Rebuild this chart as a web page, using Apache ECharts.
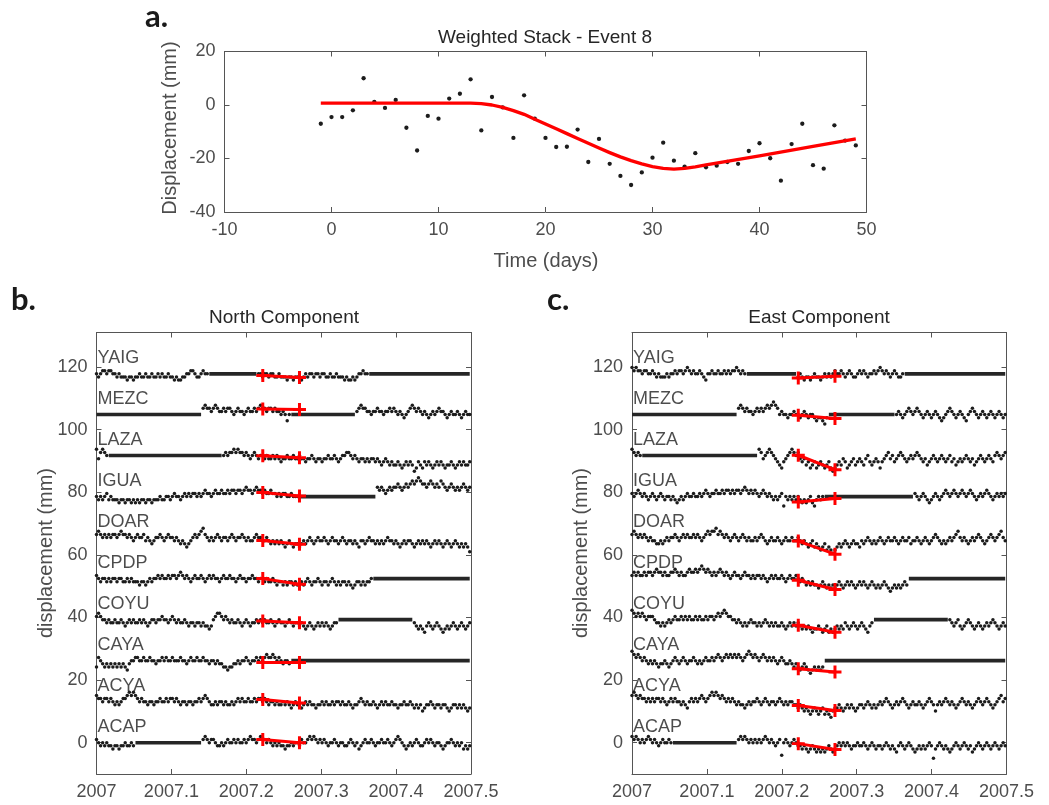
<!DOCTYPE html>
<html>
<head>
<meta charset="utf-8">
<title>Weighted Stack - Event 8</title>
<script src="https://cdn.jsdelivr.net/npm/echarts@6/dist/echarts.min.js"></script>
<style>
  html, body { margin: 0; padding: 0; background: #fff; }
  #main { width: 1049px; height: 805px; }
</style>
</head>
<body>
<div id="main"></div>
<script>
// ---------- panel a: weighted stack ----------
const stackFirstDay = -1;   // one point per day from here
const stackValues = [-7, -4.5, -4.5, -2, 10, 1.2, -1.1, 1.9, -8.5, -17, -4.1, -5.1, 2.4, 4.2, 9.6, -9.5, 3, -0.9,
  -12.3, 3.6, -5.1, -12.3, -15.7, -15.6, -9.2, -21.3, -12.7, -22, -26.5, -29.9, -25.2, -19.7, -14.1, -20.8, -23,
  -18, -23.3, -22.7, -21.3, -22, -17.2, -14.3, -19.9, -28.3, -14.6, -7, -22.5, -23.8, -7.6, -13.3, -15.1];
const fitDays = [-1, 13, 14, 15, 16, 17, 18, 19, 20, 21, 22, 23, 24, 25, 26, 27, 28, 29, 30, 31, 32, 33, 34, 35, 40, 45, 49];
const fitValues = [0.7, 0.7, 0.5, 0.0, -0.9, -2.1, -3.5, -5.3, -7.1, -8.9, -10.7, -12.5, -14.3, -16.1, -17.8, -19.4,
  -20.8, -22.0, -23.0, -23.7, -24.0, -23.7, -23.1, -22.4, -19.0, -15.5, -12.7];

// ---------- panels b, c: station time series ----------
const stations = ['YAIG', 'MEZC', 'LAZA', 'IGUA', 'DOAR', 'CPDP', 'COYU', 'CAYA', 'ACYA', 'ACAP'];
const stationOffsets = [117.8, 104.8, 91.7, 78.6, 65.5, 52.4, 39.3, 26.2, 13.1, 0];
const stationTicks = [0, 20, 40, 60, 80, 100, 120];
const eventTimes = [2007.222, 2007.271];
const northAtStart = [117.3, 106.6, 91.6, 79.9, 64.6, 52.4, 38.9, 25.6, 13.8, 1.0];
const northAtEnd = [116.6, 106.4, 91.0, 78.8, 63.4, 50.6, 38.3, 25.6, 12.7, 0];
const eastAtStart = [116.5, 104.6, 91.8, 76.9, 64.4, 51.9, 37.5, 23.6, 11.9, -0.3];
const eastAtEnd = [117.0, 103.5, 87.2, 78.0, 60.2, 48.9, 35.3, 22.6, 10.3, -2.2];

// gap-filled stretches, [first day, last day] since 2007.0
const northFlats = [[[55, 78], [133, 182]], [[0, 51], [95, 126]], [[6, 61]], [[99, 136]], [], [[135, 182]], [[118, 154]], [[95, 182]], [], [[19, 51]]];
const eastFlats = [[[56, 80], [133, 182]], [[0, 51], [96, 128]], [[5, 61]], [[94, 137]], [], [[135, 182]], [[118, 154]], [[94, 182]], [], [[20, 51]]];

// daily residuals in mm relative to the station offset -- north
const nYAIG1 = [0,-1,0,1,1,0,1,1,0,0,-1,0,-1,-1,-1,-2,-1,-1,-2,-1,-1,0,-1,-1,0,-1,-1,0,-1,-1,0,-1,0,-1,-1,0,-1,-1,-2,-1,-2,-2,-1,-1,0,0,1,1,0,-1,-1,0,1,0,0];
const nYAIG2 = [0,0,-1,0,0,-1,0,0,-1,-1,0,-1,-1,-1,-2,-1,-1,-2,-1,-1,-1,-2,-1,0,-1,0,0,-1,0,0,-1,0,0,-1,-1,0,-1,-1,0,-1,-1,-1,-2,-1,-2,-2,-1,-2,-1,0,0,1,0,0];
const nMEZC1 = [2,3,2,2,1,2,3,2,1,1,2,1,2,2,1,0,1,2,1,1,0,1,2,1,1,2,1,2,3,2,2,1,2,2,1,2,1,1,0,1,0,-2,0];
const nMEZC2 = [1,2,3,2,2,1,1,0,1,1,2,1,1,0,1,1,2,1,2,1,0,1,0,-1,0,1,2,3,2,1,2,1,0,1,0,-1,0,1,0,1,2,1,1,0,-1,0,1,0,0,1,0,-1,0,1,0,0];
const nLAZA1 = [2,-1,1,2,1,0];
const nLAZA2 = [0,1,0,1,1,2,1,2,1,1, 0,1,0,-1,0,1,0,-1,0,0, -1,0,-1,-1,0,-1,0,-1,-2,-1, -1,0,-1,-1,0,-1,-1,0,-1,-1,
  -2,-1,-1,0,-1,-2,-1,-1,-2,-1, -1,0,-1,-1,0,-1,-2,-1,0,0, 1,1,0,-1,0,-1,-2,-1,-1,-2, -1,-2,-1,-1,-2,-1,-2,-3,-2,-1,
  -2,-3,-2,-3,-3,-2,-3,-4,-3,-2, -3,-2,-3,-5,-4,-2,-3,-4,-2,-3, -2,-3,-4,-3,-2,-3,-2,-3,-4,-3, -3,-2,-3,-4,-3,-2,-3,-2,-3,-3,-2];
const nIGUA1 = [0,-1,0,-1,0,1,-1,0,-1,-1, -1,-2,-1,-1,-2,-1,-1,-2,-1,-2, -1,-2,-1,-1,-2,-1,-1,-2,-1,-1, -1,0,-1,-1,0,0,-1,0,1,0,
  0,-1,0,1,0,1,0,1,1,0, 1,0,1,2,1,1,0,1,2,1, 1,2,1,1,2,1,2,2,1,2, 2,1,2,3,2,2,1,2,3,2, 2,1,2,1,1,2,1,1,0,1, 0,1,1,0,0,1,0,0,0];
const nIGUA2 = [3,2,3,2,1,2,3,2,3,3, 4,3,2,3,4,3,4,5,4,5, 6,5,4,4,3,4,5,4,3,4, 3,5,4,3,2,3,4,3,2,3, 2,3,4,3,2,3];
const nDOAR = [1,2,1,0,1,0,1,0,1,1, 0,1,2,1,1,0,1,0,-1,0, 1,0,0,1,-1,0,-1,-2,-1,0, 0,1,0,-1,0,1,0,0,-1,0,
  -1,-2,-1,-2,-3,-2,-1,0,1,0, 1,2,3,1,0,-1,0,-1,0,1, 0,-1,0,0,-1,0,1,0,-1,0, 0,1,0,-1,0,-1,-1,0,1,0,
  0,-1,-1,0,-1,-2,-1,-2,-1,-2, -1,-2,-3,-2,-1,-2,-3,-2,-2,-3, -2,-1,-2,-1,0,-1,-2,-1,0,-1, -1,0,-1,-2,-1,0,-1,-1,-2,-1,
  0,-1,-2,-1,-1,-2,-1,-2,-3,-1, -1,-2,-1,0,-1,-1,-2,-1,-2,-1, -2,-1,0,-1,-1,-2,-1,-2,-3,-2, -1,-2,-1,-1,-2,-3,-2,-1,-2,-1,
  -2,-1,-2,-3,-2,-1,-2,-1,-2,-3, -2,-1,-2,-3,-2,-1,-2,-3,-2,-3,-2,-3,-4.5];
const nCPDP = [1,0,-1,0,0,-1,0,-1,0,0, -1,0,0,-1,-1,0,-1,0,-1,-1, -1,-2,-1,-1,-2,-1,0,-1,0,0, 1,0,1,0,0,1,0,1,1,0,
  1,2,1,0,1,0,-1,0,1,0, 0,1,0,-1,0,1,0,1,0,0, -1,0,1,0,0,1,0,0,-1,0, 1,0,0,-1,0,0,1,0,0,-1,
  0,0,-1,0,-1,-1,0,-1,-2,-1, -1,-2,-1,-2,-1,-1,-2,-1,-2,-2, -1,-2,-1,0,-1,-2,-1,-1,0,-1, -2,-1,-1,-2,-1,0,-1,-2,-1,-2,
  -1,-1,-2,-1,-2,-3,-2,-1,-1,-2, -1,-2,-1,-1,0];
const nCOYU1 = [1,2,1,0,0,-1,0,-1,-1,0, -1,-1,0,-1,-2,-1,0,-1,0,-1, -1,0,-1,0,-1,-2,-1,0,0,-1, 0,0,1,0,0,-1,0,1,0,-1,
  0,-1,-1,0,-1,-2,-1,-1,-2,-1, -1,-2,-1,-2,-2,-3,-2,0,1,2, 2,1,0,1,0,-1,0,-1,-1,0, -1,-2,-1,0,-1,-2,-1,-1,0,-1,
  0,-1,0,-1,-1,0,-1,-2,-1,0, -1,-1,-2,-1,0,-1,-2,-1,-1,-2, -1,-2,-3,-2,-1,-2,-3,-2,-1,-2, -1,-2,-1,-2,-3,-2,-1,-1];
const nCOYU2 = [-1,-2,-3,-2,-3,-4,-2,-1,-2,-3,-2,-1,-2,-3,-4,-3,-2,-3,-2,-1,-2,-3,-2,-1,-2,-3,-2,-1];
const nCAYA = [-2,1,0,-1,-2,-1,-2,-1,-2,-1, -2,-1,-2,-1,-2,-3,-1,0,0,1, 1,0,0,1,0,0,1,0,0,-1, 0,0,1,0,1,0,0,1,0,0,
  0,1,0,0,-1,0,1,0,0,1, 0,0,1,0,0,-1,0,0,-1,0, -1,-1,-2,-2,-3,-2,-2,-1,-1,0, -1,0,0,1,0,-1,0,0,1,0,
  1,0,1,2,1,1,2,1,0,1, 0,-1,0,0,-1];
const nACYA = [2,1,1,0,1,1,0,1,0,-1, 0,-1,0,1,1,2,3,2,3,2, 1,0,1,0,0,-1,0,0,-1,0, 0,1,0,0,1,0,1,1,0,1,
  0,-1,0,0,-1,0,0,-1,0,0, 1,0,1,2,1,0,-1,-1,0,-1, 0,0,-1,0,-1,-1,0,-1,0,1, 0,1,0,0,1,0,0,1,0,1,
  1,0,1,0,-1,0,0,-1,0,-1, -1,0,-1,0,-1,-2,-1,0,-1,-1, -2,-1,0,-1,0,-1,-1,-2,-1,-1, 0,-1,0,-1,-1,0,-1,0,0,-1,
  0,-1,-1,0,-1,-2,-1,-1,0,1, 0,-1,0,-1,-1,0,-1,-2,-1,0, -1,0,-1,-1,0,-1,-1,-2,-1,-1, 0,-1,-1,0,-1,-2,-1,-2,-1,-3,
  -2,-1,-1,0,-1,-2,-1,-1,-2,-1, -1,-2,-3,-2,-1,-1,-2,-1,-2,-1,-2,-3,-2];
const nACAP1 = [1,0,-1,0,-1,0,-1,-1,-2,-1,-1,-2,-1,-1,0,-1,-1,0,-1];
const nACAP2 = [1,2,1,0,1,1,0,-1,-1,0, -1,0,1,0,0,1,0,1,0,0, 1,0,1,2,1,1,0,1,2,1, 1,0,1,0,-1,0,-1,0,-1,-1,
  -2,-1,-1,0,-1,0,0,-1,1,0, 0,1,2,1,2,1,0,1,0,1, 0,-1,0,0,1,0,-1,0,0,-1, -1,0,1,0,-1,0,-2,-1,0,1,
  0,0,1,0,-1,0,0,1,0,0, 1,0,-1,0,1,2,1,0,-1,-2, -1,0,-1,0,1,0,-1,-1,0,1, 0,1,0,-1,0,0,-1,-2,-1,0, 0,1,0,-1,0,-1,0,-2,-1,-2,-1];

// daily residuals in mm relative to the station offset -- east
const eYAIG1 = [2,1,2,1,1,0,1,1,0,0, 1,0,-1,0,-1,-1,-1,0,-1,0, 0,1,0,1,1,0,1,2,1,0, 1,0,0,1,0,-1,-2,0,0,1, 0,0,1,0,0,1,0,1,0,1, 1,2,1,0,1,0];
const eYAIG2 = [-1,0,-1,-2,-1,-1,-2,-1,0,-1, -1,-2,-1,0,-1,0,-1,0,1,0, 0,1,0,-1,0,1,0,-1,-1,0, 1,0,1,0,-1,0,0,1,0,1, 2,1,0,1,0,-1,0,1,0,-1, -1,0];
const eMEZC1 = [2,3,2,1,2,1,1,0,1,2, 1,2,1,2,3,2,3,4,3,2, 0,1,0,0,-1,0,0,1,0,0, -1,0,1,0,-1,0,0,-1,-2,-1, -1,-2,-3,-1];
const eMEZC2 = [0,1,0,-1,0,1,2,1,0,1, 2,1,0,-1,0,1,0,-1,0,1, 0,-1,-2,-1,0,1,2,1,0,-1, 0,1,0,-1,-2,0,1,2,1,0, -1,0,1,0,-1,0,1,0,-1,0, 1,0,-1,0];
const eLAZA1 = [2,1,0,1,0];
const eLAZA2 = [2,1,-1,0,1,2,1,0,-1,-2, -3,-4,-2,-1,0,1,2,1,0,1, -1,-2,-1,-3,-2,-4,-3,-2,-4,-3, -2,-3,-4,-3,-2,-4,-5,-4,-3,-2,
  -3,-1,-2,-4,-3,-2,-1,-3,-2,-1, -2,-3,-1,0,-2,-3,-2,-1,-2,-4, -2,-1,0,1,-1,0,-2,-1,0,1, 0,-1,-2,-1,0,-1,0,1,0,-1,
  -2,-1,-3,-2,-1,0,-1,-2,-1,0, -1,-2,-1,0,-2,-1,-3,-2,-1,-2, -1,0,-1,-2,-1,-3,-2,-1,0,-1, -2,-1,0,-1,-2,0,1,0,-1,0,1];
const eIGUA1 = [1,0,1,2,1,0,1,0,-1,0, 1,0,-1,0,1,0,-1,0,0,-1, 0,-1,-2,-1,0,-1,0,1,0,0, 1,0,0,1,0,1,2,1,0,1,
  1,2,1,1,2,1,2,2,1,2, 1,2,2,1,2,3,2,1,2,1, 2,1,0,1,2,1,0,1,0,-1, 0,-1,0,1,-3,0,-1,0,-1,0, -1,0,-1,-2,-1,-2,-1,0,-2,-3, -1,0,-1,0];
const eIGUA2 = [1,0,-1,0,1,0,-1,-2,-1,0, 1,0,-1,0,1,2,1,0,1,2, 1,0,1,2,1,0,1,2,1,0, -1,0,1,0,1,2,1,0,-1,0, 1,0,1,0,1];
const eDOAR = [1,2,1,0,1,0,1,0,-1,0, -1,-1,-2,-2,-1,-2,-1,0,-1,0, 0,1,0,-1,0,1,0,1,0,0, 1,0,1,0,-1,0,1,2,1,2,
  2,3,1,2,1,0,1,0,-1,0, 1,0,-1,0,1,0,-1,0,-1,-1, 0,-1,0,1,0,-1,-2,-1,0,-1, -1,0,-1,-2,-1,0,-1,-1,0,-1,
  -1,0,-1,-2,-1,-2,-3,-2,-1,-3, -2,-3,-4,-3,-2,-4,-3,-4,-5,-4, -3,-2,-3,-2,-1,-2,-3,-2,-1,-2, -2,-3,-1,-2,-1,0,-1,-2,-1,-2,
  -1,0,-1,-2,-1,0,-1,-1,0,-1, -2,-1,0,-1,-1,0,-2,-1,-1,0, -1,-2,-1,0,-1,-2,-1,0,1,0, -1,-2,-1,-2,-1,0,-1,0,1,2,
  0,-1,0,-1,-2,-1,0,-1,0,1, 0,-1,-2,-1,0,1,0,-1,0,1,2,0,-1];
const eCPDP = [1,2,1,2,1,1,2,1,2,2, 1,2,3,2,2,1,2,1,1,2, 2,3,2,1,2,1,1,2,3,2, 2,3,2,3,4,3,2,3,2,1,
  2,1,2,3,2,1,2,1,0,1, 2,1,1,0,1,2,1,1,0,1, 0,1,1,0,1,0,-1,0,1,0, 1,0,0,1,0,-1,0,1,0,0,
  1,0,-1,0,-1,-2,-1,-2,-1,-2, -2,-3,-2,-1,-2,-3,-2,-3,-2,-3, -2,-1,-2,-3,-2,-1,-2,-1,-2,-3, -2,-1,-2,-1,-2,-3,-2,-1,-2,-3,
  -2,-3,-2,-1,-2,-3,-4,-3,-2,-3, -2,-3,-2,-1,-2];
const eCOYU1 = [3,2,1,2,1,2,1,0,1,1, 1,0,-1,-1,-2,-1,-2,-1,0,-1, 0,1,0,0,1,0,1,0,1,0, 0,1,0,1,0,0,1,0,1,1,
  0,1,2,1,2,3,2,1,1,0, 0,-1,0,-1,-2,-1,-2,-1,0,-1, -1,-2,-1,-2,-1,0,-1,-2,-1,-2, -1,-2,-2,-1,-2,-3,-2,-1,-2,-1,
  -2,-1,-2,-3,-2,-3,-2,-3,-4,-3, -3,-2,-3,-4,-3,-2,-4,-3,-4,-3, -2,-3,-2,-3,-1,-2,-3,-2,-1,-2, -3,-2,-1,-2,-3,-4,-2,-1];
const eCOYU2 = [0,-1,-2,-1,0,-2,-3,-2,-1,0,-1,-2,-3,-2,-1,-2,-3,-2,-1,-2,-1,0,-1,-2,-3,-2,-1,-2];
const eCAYA = [3,2,1,2,1,0,1,0,-1,0, -1,0,-1,-2,-1,-1,0,-1,-2,-1, 0,1,0,-1,0,1,0,-1,0,0, 1,0,-1,0,-1,0,1,0,0,1,
  0,1,2,1,0,1,2,1,2,1, 2,1,2,1,0,1,2,3,2,1, 2,1,0,1,2,1,0,1,0,1, 0,-1,0,1,0,-1,-1,0,-1,-2,
  -1,-2,-3,-2,-1,-2,-3,-4,-3,-2, -3,-2,-3,-2];
const eACYA = [2,3,2,1,2,1,1,0,1,0, 1,0,1,1,0,1,0,-1,0,1, 0,1,0,0,-1,0,-1,-2,0,1, 0,1,0,1,2,1,0,1,2,3,
  2,3,2,1,2,1,0,1,0,1, 0,-1,0,-1,-1,-2,-1,0,-1,0, 0,1,0,-1,0,1,0,-1,0,0, -1,0,1,0,-1,0,-1,0,0,-1,
  -1,-2,-1,-2,-3,-2,-3,-4,-3,-2, -3,-4,-3,-2,-4,-3,-4,-5,-3,-2, -2,-1,-2,-3,-2,-1,-2,-1,-2,-3, -2,-1,-1,-2,-1,0,-1,-2,-1,-2,
  -1,0,-1,0,1,0,-1,-2,-1,0, -1,0,1,0,-1,-2,-1,0,-1,-1, 0,-1,-2,-1,0,1,0,-1,-3,-1, 0,-1,0,1,0,-1,0,-1,-2,-1,
  0,1,0,-1,0,-1,-2,-1,0,1, 0,-1,0,1,0,-1,-2,-1,0,1,2,0,1];
const eACAP1 = [2,1,2,1,0,1,0,1,2,1,0,1,0,-1,0,1,0,0,1,0];
const eACAP2 = [1,2,1,2,1,0,1,0,1,0, 1,0,1,2,1,0,1,0,-1,0, 1,-4,0,1,0,-1,0,1,0,-1, -1,-2,-1,-2,-3,-2,-1,-2,-3,-2,
  -3,-2,-3,-2,-1,-2,-3,-2,-1,0, -1,0,-1,0,-1,-2,-1,-1,0,-1, -1,0,-1,-2,-1,0,-1,-2,-1,-1, -2,-1,0,-1,-2,-1,-2,-3,-1,0,
  -1,-2,-1,0,-1,-2,-3,-2,-1,-2, -1,-2,-1,0,-1,-5,-2,-1,0,-1, -2,-1,-2,-3,-2,-1,0,-1,-2,-1, 0,-1,-2,-1,-3,-2,-1,0,-1,-2, -1,0,-1,-2,-1,0,-1,-2,-1,0,-1];

// [first day, residuals] per station, same order as stations
const northNoise = [[[0, nYAIG1], [79, nYAIG2]], [[52, nMEZC1], [127, nMEZC2]], [[0, nLAZA1], [62, nLAZA2]],
  [[0, nIGUA1], [137, nIGUA2]], [[0, nDOAR]], [[0, nCPDP]], [[0, nCOYU1], [155, nCOYU2]], [[0, nCAYA]], [[0, nACYA]],
  [[0, nACAP1], [52, nACAP2]]];
const eastNoise = [[[0, eYAIG1], [81, eYAIG2]], [[52, eMEZC1], [129, eMEZC2]], [[0, eLAZA1], [62, eLAZA2]],
  [[0, eIGUA1], [138, eIGUA2]], [[0, eDOAR]], [[0, eCPDP]], [[0, eCOYU1], [155, eCOYU2]], [[0, eCAYA]], [[0, eACYA]],
  [[0, eACAP1], [52, eACAP2]]];

const FONT = 'Liberation Sans, Arial, Helvetica, sans-serif';
const AXIS_COLOR = '#555';
const LABEL_COLOR = '#4d4d4d';
const DOT_COLOR = '#1c1c1c';
const CROSS = 'path://M-1,-0.23L1,-0.23L1,0.23L-1,0.23Z M-0.23,-1L0.23,-1L0.23,1L-0.23,1Z';

function dayToYear(d) {
    return 2007 + d / 365.25;
}

function boxAxis(opt, labels) {
    // MATLAB-like box: ticks inside, optional labels
    return Object.assign({
        type: 'value',
        axisLine: { show: true, onZero: false, lineStyle: { color: AXIS_COLOR, width: 1 } },
        axisTick: { show: true, inside: true, length: 5, lineStyle: { color: AXIS_COLOR } },
        axisLabel: { show: labels, fontSize: 18, color: LABEL_COLOR, fontFamily: FONT, margin: 9 },
        splitLine: { show: false }
    }, opt);
}

function stationSeries(xi, yi, flats, noise, atStart, atEnd) {
    const out = [];
    const pts = [];
    noise.forEach((segs, i) => {
        segs.forEach(([first, vals]) => {
            vals.forEach((v, k) => pts.push([dayToYear(first + k), stationOffsets[i] + v]));
        });
    });
    out.push({
        type: 'scatter', xAxisIndex: xi, yAxisIndex: yi, data: pts, symbolSize: 3.5,
        itemStyle: { color: DOT_COLOR, opacity: 1 }, silent: true, z: 2
    });
    flats.forEach((segs, i) => {
        segs.forEach(([a, b]) => {
            out.push({
                type: 'line', xAxisIndex: xi, yAxisIndex: yi, showSymbol: false, silent: true, z: 2,
                data: [[dayToYear(a), stationOffsets[i]], [dayToYear(b), stationOffsets[i]]],
                lineStyle: { color: '#262626', width: 3.6 }
            });
        });
    });
    stations.forEach((s, i) => {
        out.push({
            type: 'line', xAxisIndex: xi, yAxisIndex: yi, showSymbol: false, silent: true, z: 4,
            data: [[eventTimes[0], atStart[i]], [eventTimes[1], atEnd[i]]],
            lineStyle: { color: '#ff0000', width: 3 }
        });
    });
    const crosses = [];
    stations.forEach((s, i) => {
        crosses.push([eventTimes[0], atStart[i]]);
        crosses.push([eventTimes[1], atEnd[i]]);
    });
    out.push({
        type: 'scatter', xAxisIndex: xi, yAxisIndex: yi, data: crosses, symbol: CROSS, symbolSize: 13,
        itemStyle: { color: '#ff0000', opacity: 1 }, silent: true, z: 5
    });
    out.push({
        type: 'scatter', xAxisIndex: xi, yAxisIndex: yi, symbolSize: 0, clip: false, silent: true, z: 6,
        data: stations.map((s, i) => [2007, stationOffsets[i] + 5.1, s]),
        label: {
            show: true, position: 'right', distance: 1, formatter: p => p.data[2],
            fontSize: 18, color: '#1f1f1f', fontFamily: FONT
        }
    });
    return out;
}

const yearLabel = v => String(+v.toFixed(1));
const stationY = { min: -10, max: 131 };

const option = {
    backgroundColor: '#ffffff',
    animation: false,
    grid: [
        { left: 224.5, top: 51.5, width: 642, height: 160.5 },
        { left: 96.5, top: 332.5, width: 374.5, height: 441.5 },
        { left: 632, top: 332.5, width: 374.5, height: 441.5 }
    ],
    xAxis: [
        boxAxis({ gridIndex: 0, min: -10, max: 50, interval: 10 }, true),
        boxAxis({ gridIndex: 0, min: -10, max: 50, interval: 10, position: 'top' }, false),
        boxAxis({ gridIndex: 1, min: 2007, max: 2007.5, interval: 0.1 }, true),
        boxAxis({ gridIndex: 1, min: 2007, max: 2007.5, interval: 0.1, position: 'top' }, false),
        boxAxis({ gridIndex: 2, min: 2007, max: 2007.5, interval: 0.1 }, true),
        boxAxis({ gridIndex: 2, min: 2007, max: 2007.5, interval: 0.1, position: 'top' }, false)
    ],
    yAxis: [
        boxAxis({ gridIndex: 0, min: -40, max: 20, interval: 20 }, true),
        boxAxis({ gridIndex: 0, min: -40, max: 20, interval: 20, position: 'right' }, false),
        boxAxis({ gridIndex: 1, min: stationY.min, max: stationY.max }, true),
        boxAxis({ gridIndex: 1, min: stationY.min, max: stationY.max, position: 'right' }, false),
        boxAxis({ gridIndex: 2, min: stationY.min, max: stationY.max }, true),
        boxAxis({ gridIndex: 2, min: stationY.min, max: stationY.max, position: 'right' }, false)
    ],
    graphic: [
        { type: 'text', x: 145, y: 17, style: { text: 'a.', font: 'bold 31px Lato, sans-serif', fill: '#1a1a1a', verticalAlign: 'middle' } },
        { type: 'text', x: 11, y: 300, style: { text: 'b.', font: 'bold 31px Lato, sans-serif', fill: '#1a1a1a', verticalAlign: 'middle' } },
        { type: 'text', x: 547, y: 300, style: { text: 'c.', font: 'bold 31px Lato, sans-serif', fill: '#1a1a1a', verticalAlign: 'middle' } },
        { type: 'text', x: 545, y: 38, style: { text: 'Weighted Stack - Event 8', font: '19px ' + FONT, fill: '#262626', align: 'center', verticalAlign: 'middle' } },
        { type: 'text', x: 284, y: 318, style: { text: 'North Component', font: '19px ' + FONT, fill: '#262626', align: 'center', verticalAlign: 'middle' } },
        { type: 'text', x: 819, y: 318, style: { text: 'East Component', font: '19px ' + FONT, fill: '#262626', align: 'center', verticalAlign: 'middle' } },
        { type: 'text', x: 546, y: 261, style: { text: 'Time (days)', font: '20px ' + FONT, fill: LABEL_COLOR, align: 'center', verticalAlign: 'middle' } },
        { type: 'text', x: 170, y: 128, rotation: Math.PI / 2, style: { text: 'Displacement (mm)', font: '20px ' + FONT, fill: LABEL_COLOR, align: 'center', verticalAlign: 'middle' } },
        { type: 'text', x: 46, y: 553, rotation: Math.PI / 2, style: { text: 'displacement (mm)', font: '20px ' + FONT, fill: LABEL_COLOR, align: 'center', verticalAlign: 'middle' } },
        { type: 'text', x: 581, y: 553, rotation: Math.PI / 2, style: { text: 'displacement (mm)', font: '20px ' + FONT, fill: LABEL_COLOR, align: 'center', verticalAlign: 'middle' } }
    ],
    series: []
};

// station axes: labelled ticks only at the round values
[2, 3, 4, 5].forEach(i => {
    option.yAxis[i].axisTick.customValues = stationTicks;
    option.yAxis[i].axisLabel.customValues = stationTicks;
});
[2, 4].forEach(i => { option.xAxis[i].axisLabel.formatter = yearLabel; });

option.series.push({
    type: 'scatter', xAxisIndex: 0, yAxisIndex: 0, symbolSize: 4.3, silent: true, z: 2,
    itemStyle: { color: DOT_COLOR, opacity: 1 },
    data: stackValues.map((v, k) => [stackFirstDay + k, v])
});
option.series.push({
    type: 'line', xAxisIndex: 0, yAxisIndex: 0, showSymbol: false, silent: true, z: 4,
    data: fitDays.map((d, k) => [d, fitValues[k]]),
    lineStyle: { color: '#ff0000', width: 3.3, join: 'round' }
});
option.series.push(...stationSeries(2, 2, northFlats, northNoise, northAtStart, northAtEnd));
option.series.push(...stationSeries(4, 4, eastFlats, eastNoise, eastAtStart, eastAtEnd));

const chart = echarts.init(document.getElementById('main'), null, { renderer: 'canvas' });
chart.setOption(option);
</script>
</body>
</html>
